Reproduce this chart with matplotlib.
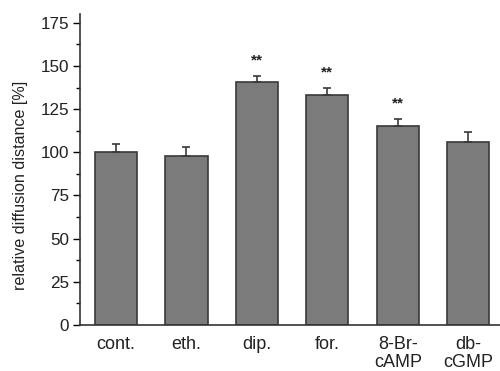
import numpy as np
import matplotlib.pyplot as plt
from matplotlib.ticker import MultipleLocator

plt.rcParams['font.family'] = ['Liberation Sans', 'DejaVu Sans']

labels = ['cont.', 'eth.', 'dip.', 'for.', '8-Br-\ncAMP', 'db-\ncGMP']
values = [100, 98, 140.5, 133, 115, 106]
errors = [5, 5, 3.5, 4, 4.5, 5.5]
stars = ['', '', '**', '**', '**', '']

fig = plt.figure(figsize=(5, 3.71), dpi=100)
ax = fig.add_axes([0.16, 0.124, 0.84, 0.838])

x = np.arange(len(labels))
ax.bar(x, values, width=0.6, color='#7b7b7b', edgecolor='#3a3a3a', linewidth=1.2,
       yerr=[np.zeros(len(errors)), errors], error_kw=dict(ecolor='#3a3a3a', elinewidth=1.2, capsize=3, capthick=1.2))

for xi, v, e, s in zip(x, values, errors, stars):
    if s:
        ax.text(xi, v + e + 9, s, ha='center', va='center', fontsize=11, fontweight='bold', color='#222222')

ax.set_xlim(-0.51, 5.45)
ax.set_ylim(0, 180)
ax.yaxis.set_major_locator(MultipleLocator(25))
ax.yaxis.set_minor_locator(MultipleLocator(12.5))
ax.set_xticks(x)
ax.set_xticklabels(labels, fontsize=13, linespacing=1.05, color='#222222')
ax.tick_params(axis='x', length=0, pad=8)
ax.tick_params(axis='y', which='major', direction='out', length=5, labelsize=12.3, width=1,
               labelcolor='#222222', pad=3)
ax.tick_params(axis='y', which='minor', direction='out', length=3, width=1)
ax.set_ylabel('relative diffusion distance [%]', fontsize=11.6, color='#222222')
ax.yaxis.set_label_coords(-0.124, 0.45)

for side in ['top', 'right']:
    ax.spines[side].set_visible(False)
for side in ['left', 'bottom']:
    ax.spines[side].set_linewidth(1.2)
    ax.spines[side].set_color('#333333')

plt.savefig('out.png', dpi=100)
